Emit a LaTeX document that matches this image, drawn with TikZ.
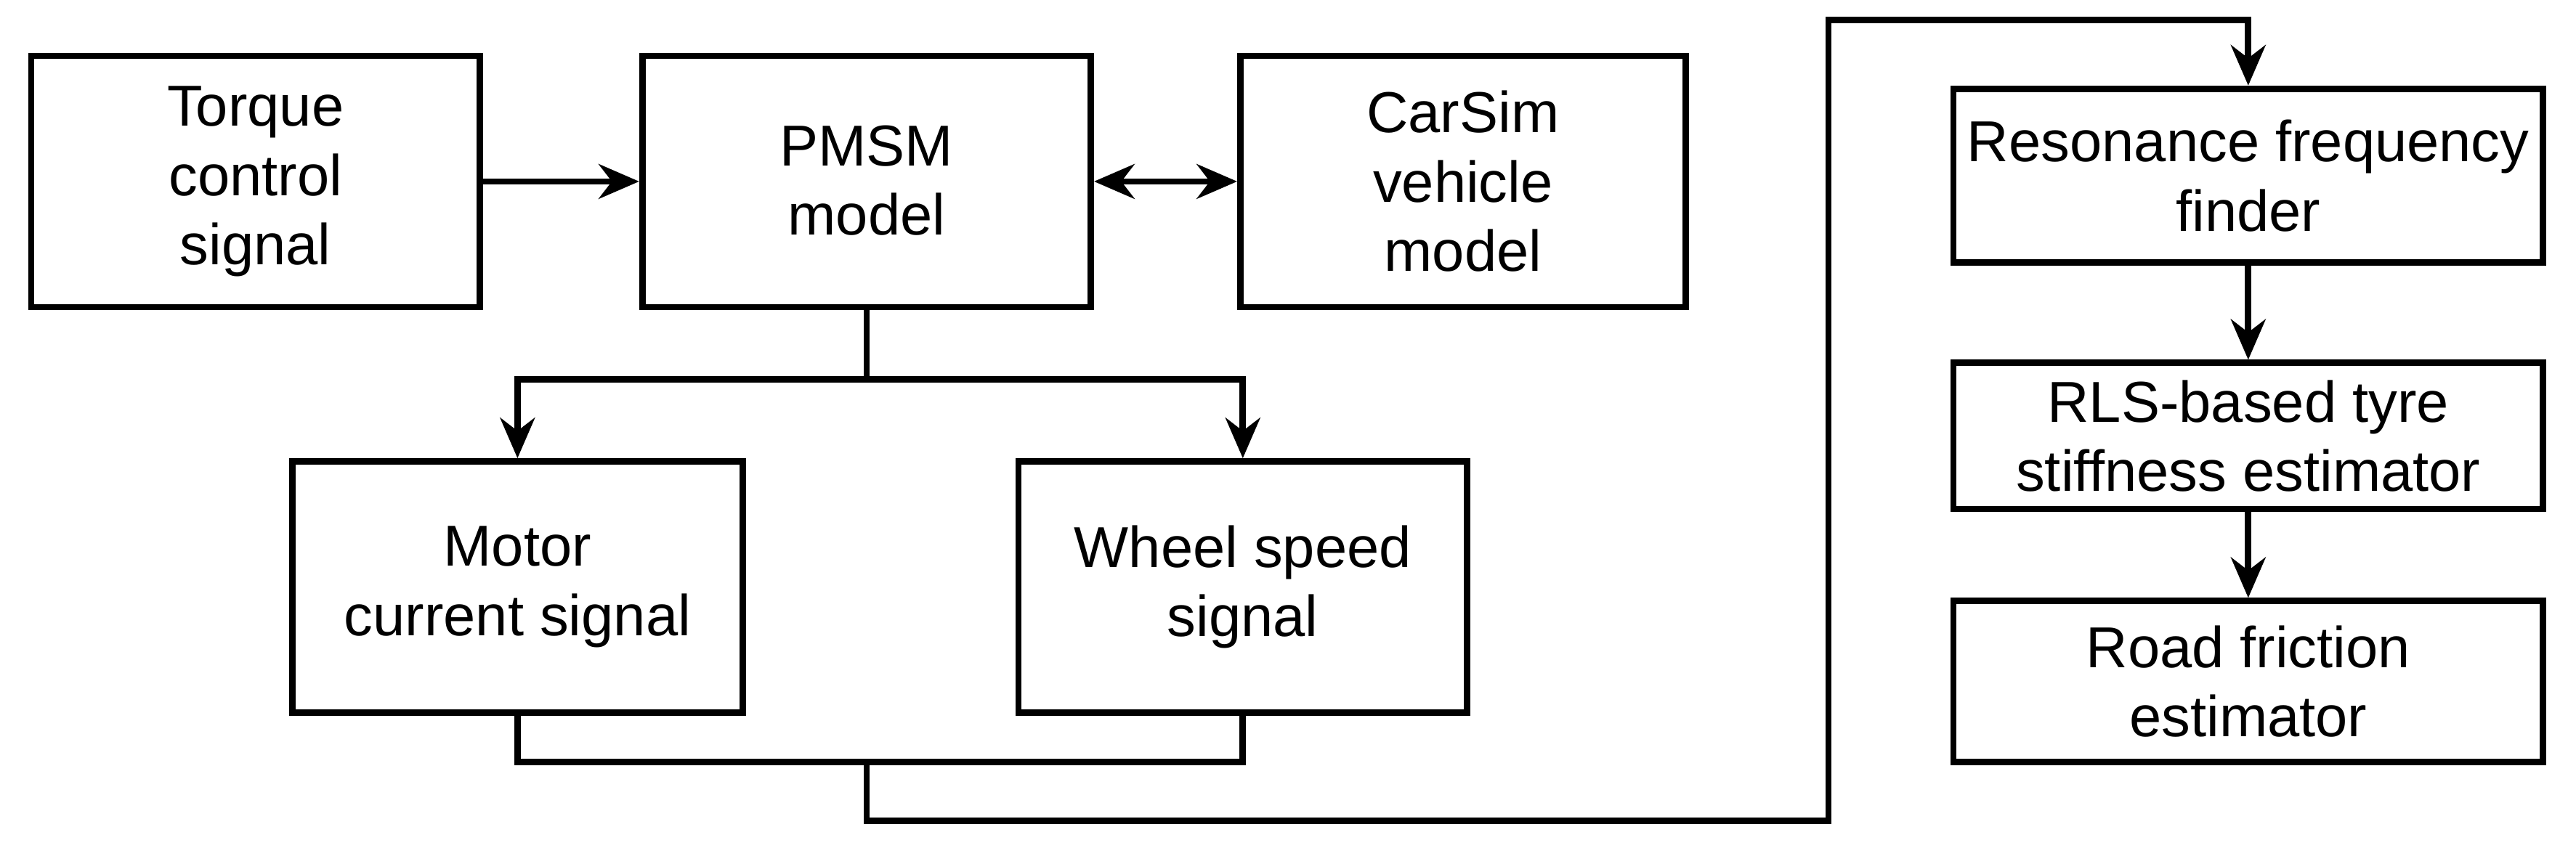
\documentclass[tikz,border=0pt]{standalone}
\usepackage{fontspec}
\setmainfont{Liberation Sans}
\usetikzlibrary{arrows.meta}
\begin{document}
\begin{tikzpicture}[x=0.01cm,y=-0.01cm,
  box/.style={draw,line width=1.1pt,align=center,inner sep=0pt,font=\fontsize{10}{12}\selectfont},
  txt/.style={align=center,inner sep=0pt,font=\fontsize{10}{12}\selectfont},
  ln/.style={line width=1.1pt},
  ar/.style={ln,-{Stealth[length=7pt,width=6pt]}},
  dar/.style={ln,{Stealth[length=7pt,width=6pt]}-{Stealth[length=7pt,width=6pt]}}]
\useasboundingbox (0,0) rectangle (1568,526);
\newcommand{\bx}[6]{\node[box,minimum width=#4*0.01cm,minimum height=#5*0.01cm] (#1) at (#2,#3) {#6};}
\bx{tq}{155.5}{110.5}{273}{153}{Torque\\control\\signal}
\bx{pm}{527.5}{110.5}{273}{153}{}
\node[txt] (pmt) at (527.5,110) {PMSM\\model};
\bx{cs}{890.5}{110.5}{271}{153}{CarSim\\vehicle\\model}
\bx{mc}{315}{357.5}{274}{153}{Motor\\current signal}
\bx{ws}{756.5}{357.5}{273}{153}{Wheel speed\\signal}
\bx{rf}{1368.5}{107}{359}{106}{Resonance frequency\\finder}
\bx{rl}{1368.5}{265.5}{359}{89}{RLS-based tyre\\stiffness estimator}
\bx{rd}{1368.5}{415}{359}{98}{Road friction\\estimator}
\draw[ar] (tq.east) -- (pm.west);
\draw[dar] (pm.east) -- (cs.west);
\coordinate (s1) at (527.5,231);
\draw[ln] (pm.south) -- (s1);
\draw[ar] (s1) -| (mc.north);
\draw[ar] (s1) -| (ws.north);
\coordinate (j) at (527.5,464);
\draw[ln] (mc.south) |- (j) -| (ws.south);
\coordinate (a) at (1113,500);
\coordinate (b) at (1113,12);
\draw[ar] (j) |- (a) -- (b) -| (rf.north);
\draw[ar] (rf.south) -- (rl.north);
\draw[ar] (rl.south) -- (rd.north);
\end{tikzpicture}
\end{document}
